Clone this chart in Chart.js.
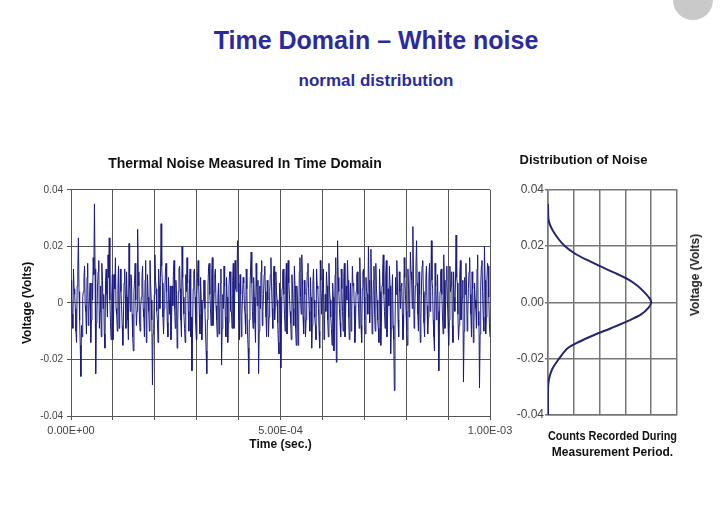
<!DOCTYPE html>
<html lang="en">

<head>
  <meta charset="UTF-8" />
  <title>Time Domain - White noise</title>
  <script src="https://cdn.jsdelivr.net/npm/chart.js"></script>
  <style>
    html, body { margin: 0; padding: 0; background: #fff; }
    body { width: 720px; height: 516px; position: relative; overflow: hidden; font-family: "Liberation Sans", Arial, sans-serif; }
    .heading { position: absolute; left: 0; width: 752px; text-align: center; color: #2b2b9c; font-weight: bold; }
    #main-title { top: 26px; font-size: 25px; }
    #sub-title { top: 71px; font-size: 17px; }
    #noise-box { position: absolute; left: 0; top: 148px; width: 530px; height: 308px; }
    #dist-box { position: absolute; left: 490px; top: 145px; width: 230px; height: 320px; }
    #dist-ylabel { position: absolute; left: 695px; top: 275px; transform: translate(-50%, -50%) rotate(-90deg);
      font-size: 12px; font-weight: bold; color: #222; white-space: nowrap; }
    .corner-btn { position: absolute; left: 673px; top: -20px; width: 40px; height: 40px; border-radius: 50%; background: #c9c9c9; }
  </style>
</head>

<body>
  <div class="corner-btn"></div>
  <div id="main-title" class="heading">Time Domain – White noise</div>
  <div id="sub-title" class="heading">normal distribution</div>

  <div id="noise-box"><canvas id="noiseChart"></canvas></div>
  <div id="dist-box"><canvas id="distChart"></canvas></div>
  <div id="dist-ylabel">Voltage (Volts)</div>

  <script>
    // measured noise, millivolts, evenly sampled over 0 .. 1 ms
    const noiseMillivolts = [
      8, 3, -4, -9, 12, 5, 3, -2, -10, -14, 6, 11, 23, 4, -6, -15, -26, -8, -12, 2, 4, 9, 13, -1, -3, -11, 9, 14, -8, -3, 2, 7, -14, -6, 7, 1, 16, 10, 35, 12,
      -25, -7, -5, 6, 11, 15, -9, -3, 6, -12, 14, 8, -2, 3, -11, -16, 8, 12, 3, -5, 17, 9, 23, 1, -7, -13, 2, 10, -13, -4, 10, 5, 16, -2, -4, -10, 5, 13, -9, -1,
      12, 4, -1, -8, -15, -5, 7, 12, 3, -9, 11, 2, -6, -13, 21, 6, -3, 10, 9, -4, -12, -17, 4, 8, 14, 1, -8, -3, 26, 11, 6, -6, -10, -1, 2, 9, 13, -2, -5, -12,
      8, 15, -14, -4, 10, 2, -3, -10, 15, 7, 1, -6, -29, -11, -9, 3, 17, 8, 5, -3, -6, -14, 12, 6, -2, 9, 28, 13, 7, -5, -11, -2, 3, 11, 14, 4, -7, -12, 9, 1,
      -4, 6, -13, -6, 6, -1, 11, 15, -2, -9, 8, 3, -16, -7, 4, 12, 13, 5, -6, -12, 20, 9, 2, -4, -9, -14, 10, 4, 16, 7, -3, -10, 7, 12, -12, -5, -24, -9, 5, 11,
      12, 2, -7, -13, 3, 9, 15, 6, -4, -11, 9, 1, -13, -5, 1, 8, 8, -2, -10, -17, -25, -6, 6, 13, 14, 3, -2, -8, 10, 16, -8, -3, 4, 10, 12, -1, -6, -12, 2, 7,
      -11, -4, 7, 12, -22, -9, 3, -2, 13, 6, -5, -12, 9, 2, -14, -7, 6, 11, 11, -3, -3, -9, 8, 14, -9, -2, 15, 5, 4, 10, 22, 7, -6, -13, 10, 3, -12, -4, 3, 9,
      7, -1, -4, -11, 12, 5, -10, -16, -25, -6, 5, 12, 18, 7, -3, -9, 9, 2, -7, -14, 14, 6, -1, 8, -25, -10, 6, -2, 11, 15, -8, -3, 3, 10, 13, 4, -5, -12, 8, 1,
      -12, -5, 4, 10, 16, 6, -2, -9, 9, 13, -6, -1, 11, 4, 1, -7, -14, -18, 7, 2, -23, -8, 5, 11, 12, 3, -4, -10, 8, 14, -11, -4, 15, 7, 3, -3, -7, -13, 10, 5,
      -2, -8, 13, 6, -9, -15, 6, 1, -15, -7, 11, 16, 2, -4, 17, 9, -5, -11, 8, 3, -12, -6, 4, 11, 14, 5, -3, -10, 9, 2, -16, -8, 7, 12, 1, -5, -8, -13, 12, 6,
      5, -2, -10, -16, 15, 8, -4, 3, 8, 12, -13, -6, 3, -3, 11, 6, -6, -12, 14, 4, 1, -5, -9, -15, 7, 2, -17, -9, 10, 16, -21, -7, 22, 9, 4, -2, -7, -12, 12, 5,
      -3, -10, 9, 14, -12, -4, 6, 1, 15, 8, -5, -13, 2, 7, -10, -3, 13, 6, 7, -1, -14, -8, 4, 10, 11, 3, -2, -9, 16, 7, -8, -14, 5, 11, 12, 2, -6, -11, 9, 4,
      3, -4, 20, 8, -7, 2, 19, 6, -11, -5, 8, 13, -4, -10, 14, 5, 1, -6, -9, -14, 12, 4, -15, -7, 6, 11, 17, 3, -3, -9, 10, 15, -12, -5, 5, -1, 13, 6, -18, -9,
      4, 10, -8, -13, -31, -10, 9, 3, 15, 7, -6, -12, 11, 4, -2, 6, 7, -4, -13, -8, 16, 9, 3, -3, -10, -15, 12, 5, -5, 2, 18, 11, 8, -2, 27, 10, -9, -4, 6, 13,
      22, 7, -4, -10, 11, 3, -14, -6, 7, 13, 15, 4, -7, -12, 3, 9, 13, -1, -11, -5, 9, 14, -3, 4, 22, 8, 5, -6, -12, -17, 14, 6, -6, 1, 10, -3, -24, -8, 4, 11,
      12, 3, -5, -11, 17, 8, -9, -2, 8, 13, 1, -7, -15, -6, 13, 4, 6, 11, -8, -14, 11, 2, -3, 7, 24, 9, 7, -4, -13, -8, 10, 15, -6, -1, 2, 8, -28, -10, 9, 3,
      14, 6, -10, -4, 5, 11, 16, 3, -4, -12, 11, 5, -14, -7, 7, 1, -2, -9, 12, 17, -8, -3, -30, -11, 6, 13, 15, 4, -5, -10, 20, 8, -11, -5, 8, 14, 13, 2, -7, -12
    ];
    const timeStart = 0;
    const timeEnd = 1e-3;
    const timeTickLabels = ["0.00E+00", "", "", "", "", "5.00E-04", "", "", "", "", "1.00E-03"];

    // distribution curve
    const distVolts = [-0.04, -0.0308, -0.0272, -0.0236, -0.020, -0.0164, -0.0140, -0.0116, -0.0092, -0.0067, -0.0043, -0.0019, 0,
      0.0012, 0.0035, 0.0058, 0.0082, 0.0105, 0.0129, 0.0152, 0.0175, 0.020, 0.0222, 0.0257, 0.0292, 0.035];
    const distCounts = [0, 0, 0.04, 0.17, 0.43, 0.75, 1.21, 1.79, 2.44, 3.09, 3.61, 3.9, 4.0,
      3.95, 3.74, 3.48, 3.09, 2.57, 1.99, 1.47, 1.01, 0.65, 0.43, 0.17, 0.02, 0];

    const FONT = "'Liberation Sans', Arial, sans-serif";
    Chart.defaults.font.family = FONT;
    Chart.defaults.color = "#333";

    const step = (timeEnd - timeStart) / (noiseMillivolts.length - 1);
    const noisePoints = noiseMillivolts.map((mv, i) => ({ x: timeStart + i * step, y: mv / 1000 }));

    new Chart(document.getElementById("noiseChart"), {
      type: "scatter",
      data: {
        datasets: [{
          data: noisePoints,
          showLine: true,
          borderColor: "#1c1c80",
          borderWidth: 1,
          pointRadius: 0,
          tension: 0
        }]
      },
      options: {
        responsive: true,
        maintainAspectRatio: false,
        animation: false,
        layout: { padding: { left: 0, right: 40, top: 0, bottom: 0 } },
        plugins: {
          legend: { display: false },
          tooltip: { enabled: false },
          title: {
            display: true,
            text: "Thermal Noise Measured In Time Domain",
            color: "#111",
            font: { size: 14, weight: "bold" },
            padding: { top: 8, bottom: 17 }
          }
        },
        scales: {
          x: {
            type: "linear",
            min: timeStart,
            max: timeEnd,
            afterBuildTicks: (axis) => {
              axis.ticks = timeTickLabels.map((_, i) => ({ value: timeStart + i * (timeEnd - timeStart) / 10 }));
            },
            afterFit: (axis) => { axis.height = 40; },
            grid: { color: "#555", lineWidth: 1, tickLength: 4 },
            border: { color: "#555", width: 1 },
            ticks: {
              maxRotation: 0,
              autoSkip: false,
              padding: 4,
              color: "#444",
              font: { size: 11 },
              callback: (v, i) => timeTickLabels[i]
            },
            title: {
              display: true,
              text: "Time (sec.)",
              color: "#111",
              font: { size: 12, weight: "bold" },
              padding: { top: 0, bottom: 4 }
            }
          },
          y: {
            min: -0.04,
            max: 0.04,
            afterFit: (axis) => { axis.width = 71; },
            grid: { color: "#555", lineWidth: 1, tickLength: 4 },
            border: { color: "#555", width: 1 },
            ticks: {
              stepSize: 0.02,
              padding: 4,
              color: "#444",
              font: { size: 10 },
              callback: (v) => Math.abs(v) < 1e-9 ? "0" : Number(v).toFixed(2)
            },
            title: {
              display: true,
              text: "Voltage (Volts)",
              color: "#111",
              font: { size: 12, weight: "bold" },
              padding: { top: 20, bottom: 0 }
            }
          }
        }
      }
    });

    new Chart(document.getElementById("distChart"), {
      type: "scatter",
      data: {
        datasets: [{
          data: distCounts.map((c, i) => ({ x: c, y: distVolts[i] })),
          showLine: true,
          borderColor: "#24246e",
          borderWidth: 2,
          pointRadius: 0,
          tension: 0.3
        }]
      },
      options: {
        responsive: true,
        maintainAspectRatio: false,
        animation: false,
        layout: { padding: { left: 0, right: 43, top: 0, bottom: 0 } },
        plugins: {
          legend: { display: false },
          tooltip: { enabled: false },
          title: {
            display: true,
            text: "Distribution of Noise",
            color: "#111",
            font: { size: 13, weight: "bold" },
            padding: { top: 8, bottom: 21 }
          }
        },
        scales: {
          x: {
            type: "linear",
            min: 0,
            max: 5,
            afterFit: (axis) => { axis.height = 50; },
            grid: { color: "#777", lineWidth: 1.5, drawTicks: false },
            border: { color: "#777", width: 1.5 },
            ticks: { stepSize: 1, display: false },
            title: {
              display: true,
              text: ["Counts Recorded During", "Measurement Period."],
              color: "#111",
              font: { size: 12, weight: "bold", lineHeight: 1.35 },
              padding: { top: 0, bottom: 4 }
            }
          },
          y: {
            min: -0.04,
            max: 0.04,
            afterFit: (axis) => { axis.width = 58; },
            grid: { color: "#777", lineWidth: 1.5, tickLength: 3 },
            border: { color: "#777", width: 1.5 },
            ticks: {
              stepSize: 0.02,
              padding: 1,
              color: "#444",
              font: { size: 12 },
              callback: (v) => Math.abs(v) < 1e-9 ? "0.00" : Number(v).toFixed(2)
            }
          }
        }
      }
    });
  </script>
</body>

</html>
